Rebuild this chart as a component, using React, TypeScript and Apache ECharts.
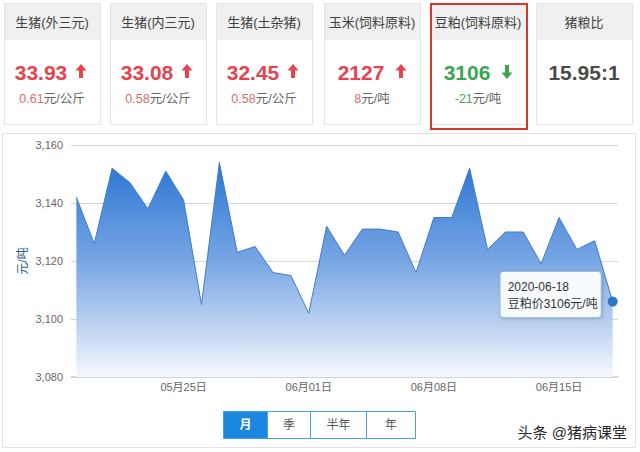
import React, { useEffect, useRef } from 'react';
import * as echarts from 'echarts';

const dates = [
  '2020-05-19', '2020-05-20', '2020-05-21', '2020-05-22', '2020-05-23', '2020-05-24', '2020-05-25',
  '2020-05-26', '2020-05-27', '2020-05-28', '2020-05-29', '2020-05-30', '2020-05-31', '2020-06-01',
  '2020-06-02', '2020-06-03', '2020-06-04', '2020-06-05', '2020-06-06', '2020-06-07', '2020-06-08',
  '2020-06-09', '2020-06-10', '2020-06-11', '2020-06-12', '2020-06-13', '2020-06-14', '2020-06-15',
  '2020-06-16', '2020-06-17', '2020-06-18',
];
const prices = [
  3142, 3126, 3152, 3147, 3138, 3151, 3141, 3105, 3154, 3123, 3125, 3116, 3115, 3102, 3132, 3122,
  3131, 3131, 3130, 3116, 3135, 3135, 3152, 3124, 3130, 3130, 3119, 3135, 3124, 3127, 3106,
];
const tickDates = ['2020-05-25', '2020-06-01', '2020-06-08', '2020-06-15'];
const yTicks = [3080, 3100, 3120, 3140, 3160];

const cardTitles = ['生猪(外三元)', '生猪(内三元)', '生猪(土杂猪)', '玉米(饲料原料)', '豆粕(饲料原料)', '猪粮比'];
const cardValues = ['33.93', '33.08', '32.45', '2127', '3106', '15.95:1'];
const cardChanges = ['0.61', '0.58', '0.58', '8', '-21', ''];
const cardUnits = ['元/公斤', '元/公斤', '元/公斤', '元/吨', '元/吨', ''];
const cardTrends = ['up', 'up', 'up', 'up', 'down', 'none'];
const buttons = ['月', '季', '半年', '年'];

const RED = '#e5444f';
const GREEN = '#3aa64f';
const CJK = "'Liberation Sans', 'Noto Sans CJK SC', sans-serif";

function buildGraphics() {
  const els: any[] = [];
  els.push({
    type: 'rect', z: -10, silent: true,
    shape: { x: 2.5, y: 133.5, width: 633, height: 314 },
    style: { fill: '#fff', stroke: '#e2e2e2', lineWidth: 1 },
  });
  const lefts = [4, 110, 216, 324, 430, 536];
  cardTitles.forEach((t, i) => {
    const x = lefts[i];
    const w = 96;
    const cx = x + w / 2;
    els.push({
      type: 'rect', silent: true,
      shape: { x: x + 0.5, y: 3.5, width: w, height: 121 },
      style: { fill: '#fff', stroke: '#e4e4e4', lineWidth: 1 },
    });
    els.push({
      type: 'rect', silent: true,
      shape: { x: x + 1, y: 4, width: w - 1, height: 36 },
      style: { fill: '#f0f0f0' },
    });
    els.push({
      type: 'text', silent: true,
      x: cx, y: 22,
      style: { text: t, fill: '#404040', font: `13px ${CJK}`, textAlign: 'center', textVerticalAlign: 'middle' },
    });
    const trend = cardTrends[i];
    const color = trend === 'up' ? RED : trend === 'down' ? GREEN : '#4a4a4a';
    els.push({
      type: 'text', silent: true,
      x: trend === 'none' ? cx : cx - 11, y: 72,
      style: { text: cardValues[i], fill: color, font: `bold 21px ${CJK}`, textAlign: 'center', textVerticalAlign: 'middle' },
    });
    if (trend !== 'none') {
      const s = trend === 'up' ? 1 : -1;
      els.push({
        type: 'polygon', silent: true,
        x: cx + 29, y: trend === 'up' ? 71 : 72,
        shape: {
          points: [[0, -7 * s], [5.5, -0.5 * s], [2, -0.5 * s], [2, 7 * s], [-2, 7 * s], [-2, -0.5 * s], [-5.5, -0.5 * s]],
        },
        style: { fill: color },
      });
      els.push({
        type: 'text', silent: true,
        x: cx, y: 99,
        style: {
          text: `{a|${cardChanges[i]}}{b|${cardUnits[i]}}`,
          textAlign: 'center', textVerticalAlign: 'middle',
          rich: {
            a: { fill: trend === 'up' ? '#e06a6a' : '#4aa25a', font: `12.5px ${CJK}` },
            b: { fill: '#666', font: `12.5px ${CJK}` },
          },
        },
      });
    }
  });
  els.push({
    type: 'rect', silent: true, z: 5,
    shape: { x: 431, y: 4, width: 96, height: 125 },
    style: { fill: 'none', stroke: '#d8352c', lineWidth: 2 },
  });
  const bx = [223, 267, 310, 366, 415];
  buttons.forEach((b, i) => {
    const active = i === 0;
    els.push({
      type: 'rect', silent: true,
      shape: { x: bx[i] + 0.5, y: 411.5, width: bx[i + 1] - bx[i], height: 27 },
      style: { fill: active ? '#1b87df' : '#fff', stroke: '#4aa0dc', lineWidth: 1 },
    });
    els.push({
      type: 'text', silent: true,
      x: (bx[i] + bx[i + 1]) / 2 + 0.5, y: 425,
      style: {
        text: b, fill: active ? '#fff' : '#555',
        font: `${active ? 'bold ' : ''}12px ${CJK}`, textAlign: 'center', textVerticalAlign: 'middle',
      },
    });
  });
  els.push({
    type: 'text', silent: true, z: 20,
    x: 627, y: 432,
    style: {
      text: '头条 @猪病课堂', fill: '#2a2a2a', font: `15px ${CJK}`,
      textAlign: 'right', textVerticalAlign: 'middle',
      stroke: '#fff', lineWidth: 2,
    },
  });
  return els;
}

export default function App() {
  const ref = useRef<HTMLDivElement>(null);
  useEffect(() => {
    document.body.style.margin = '0';
    const chart = echarts.init(ref.current!, undefined, { renderer: 'svg' });
    const last = prices.length - 1;
    const tickIdx = tickDates.map((d) => dates.indexOf(d));
    chart.setOption({
      animation: false,
      backgroundColor: '#fff',
      graphic: buildGraphics(),
      grid: { left: 71, right: 22, top: 145, bottom: 75, containLabel: false },
      xAxis: {
        type: 'value',
        min: -0.3,
        max: last + 0.3,
        splitLine: { show: false },
        axisLine: { show: true, lineStyle: { color: '#cfcfcf', width: 1.5 } },
        axisTick: { show: false },
        axisLabel: {
          customValues: tickIdx,
          margin: 4,
          color: '#666',
          fontSize: 11,
          fontFamily: CJK,
          formatter: (v: number) => {
            const d = dates[Math.round(v)];
            if (!d) return '';
            const [, m, day] = d.split('-');
            return `${m}月${day}日`;
          },
        },
      },
      yAxis: {
        type: 'value',
        min: yTicks[0],
        max: yTicks[yTicks.length - 1],
        interval: 20,
        name: '元/吨',
        nameLocation: 'middle',
        nameGap: 42,
        nameMoveOverlap: false,
        nameTextStyle: { color: '#2d5b8c', fontSize: 12, fontFamily: CJK },
        axisLine: { show: false },
        axisTick: { show: false },
        splitLine: { lineStyle: { color: '#d6d6d6' } },
        axisLabel: {
          color: '#666', fontSize: 11, fontFamily: CJK, margin: 8,
          formatter: (v: number) => v.toLocaleString('en-US'),
        },
      },
      series: [
        {
          type: 'line',
          data: prices.map((p, i) => [i, p]),
          symbol: 'none',
          lineStyle: { color: '#3f7cc4', width: 1 },
          areaStyle: {
            color: new echarts.graphic.LinearGradient(0, 0, 0, 1, [
              { offset: 0, color: '#2c76d3' },
              { offset: 0.45, color: '#76a5e4' },
              { offset: 0.75, color: '#b9d0f0' },
              { offset: 1, color: '#f6f9fe' },
            ]),
            opacity: 1,
          },
          markPoint: {
            silent: true,
            data: [
              {
                coord: [last, prices[last]],
                symbol: 'circle',
                symbolSize: 10,
                itemStyle: { color: '#2f74cb' },
                label: {
                  show: true,
                  position: 'left',
                  distance: 7,
                  offset: [0, -7],
                  formatter: `{t|${dates[last]}}\n{t|豆粕价${prices[last]}元/吨}`,
                  rich: {
                    t: { width: 88, align: 'left', color: '#333', fontSize: 12, fontFamily: CJK, lineHeight: 17 },
                  },
                  backgroundColor: '#f8fbfe',
                  borderColor: '#9fbfdc',
                  borderWidth: 1,
                  borderRadius: 3,
                  padding: [6, 5, 5, 7],
                  shadowColor: 'rgba(0,0,0,0.2)',
                  shadowBlur: 3,
                  shadowOffsetX: 1,
                  shadowOffsetY: 1,
                },
              },
            ],
          },
        },
      ],
    });
    return () => chart.dispose();
  }, []);
  return <div ref={ref} style={{ width: 640, height: 452, position: 'absolute', left: 0, top: 0 }} />;
}
